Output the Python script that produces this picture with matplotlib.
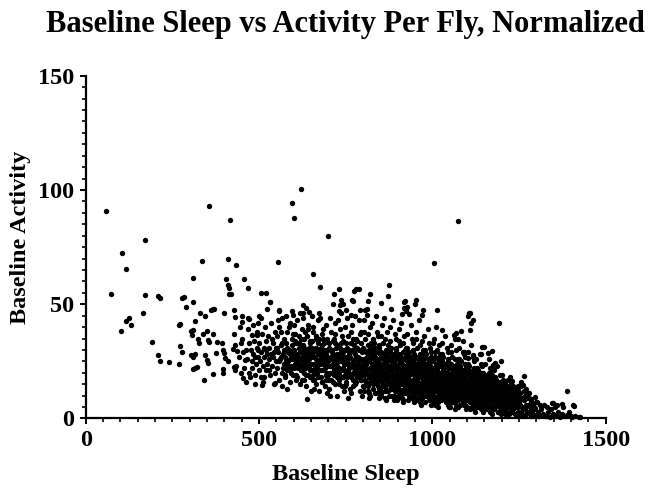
import matplotlib
matplotlib.use("Agg")
import matplotlib.pyplot as plt
from matplotlib.ticker import MultipleLocator

plt.rcParams['font.family'] = ['Liberation Serif', 'DejaVu Serif']
plt.rcParams['font.weight'] = 'bold'

title = "Baseline Sleep vs Activity Per Fly, Normalized"
x_label = "Baseline Sleep"
y_label = "Baseline Activity"
x_ticks = [0, 500, 1000, 1500]
y_ticks = [0, 50, 100, 150]

# isolated flies (sleep, activity)
flies_sparse = [
    (58, 91), (356, 93), (417, 87), (172, 78), (106, 72.5), (117, 65.5), (336, 69), (411, 70),
    (433, 67), (555, 68.5), (309, 61.3), (405, 61), (411, 58.2), (414, 57), (413, 54.6), (419, 54.6),
    (458, 61), (468, 57.2), (72, 54.6), (172, 54), (209, 53.7), (215, 52.7), (278, 52.8), (285, 53.1),
    (290, 49), (311, 50.8), (506, 54.7), (521, 54.7), (531, 50.9), (522, 47.9), (370, 48), (361, 47.4),
    (429, 47.4), (559, 47.6), (115, 42.8), (125, 43.9), (130, 40.7), (101, 38.1), (165, 46), (192, 33.6),
    (209, 27.9), (215, 25.3), (240, 24.7), (270, 23.7), (272, 41.5), (271, 31.7), (278, 29.1), (304, 38.4),
    (309, 38.9), (315, 42.6), (330, 46), (345, 44.8), (366, 47.8), (400, 46), (430, 44.5), (451, 45),
    (450, 42.2), (472, 43.6), (500, 45), (498, 42), (323, 34.6), (327, 33.1), (339, 36.8), (350, 38.4),
    (353, 34.3), (357, 33.4), (368, 37.1), (379, 33.6), (393, 33.1), (303, 27.9), (309, 26.8), (315, 28.3),
    (343, 27.6), (351, 25.6), (354, 24.4), (309, 21.6), (315, 22.2), (322, 22.4), (342, 16.8), (366, 19.5),
    (375, 28.5), (395, 21.6), (397, 19.8), (403, 26.5), (411, 25.1), (397, 30), (400, 28.5), (429, 36.8),
    (432, 32.3), (424, 30.3), (436, 29.5), (429, 22.6), (434, 23), (432, 21.2), (449, 32.9), (455, 29.1),
    (459, 25.7), (454, 17.7), (463, 16.1), (471, 19.8), (467, 39.1), (480, 36.4), (493, 36.6), (479, 25.1),
    (489, 27), (498, 29.9), (508, 14.6), (514, 18), (545, 15.4), (270, 40.9), (307, 36.5),
    (622, 100.5), (595, 94.5), (601, 87.7), (700, 80), (1074, 86.5), (1004, 67.9), (655, 63.3), (676, 57.5),
    (732, 56.8), (716, 54.6), (714, 50.2), (775, 55.9), (779, 56.8), (789, 56.5), (768, 51.7), (772, 51.4),
    (821, 54.3), (876, 58.4), (871, 53.6), (814, 51.2), (853, 50.5), (922, 51.4), (926, 49), (953, 51.8),
    (736, 51.8), (742, 50.2), (733, 49.5), (731, 47), (736, 46), (925, 47), (532, 50.9), (559, 47.1),
    (595, 47.1), (599, 45.4), (628, 49.6), (636, 48.4), (645, 46.6), (628, 46), (672, 46), (752, 47.3),
    (766, 45.1), (791, 47.3), (807, 47.3), (811, 45.1), (912, 45.7), (934, 45.7), (974, 47.3), (969, 45.1),
    (1012, 47.3), (1107, 46), (1028, 38.7), (1104, 45), (1112, 42), (950, 50.3), (919, 48.4), (917, 51),
    (1110, 46.1), (1117, 43.1), (1110, 38.8), (1192, 41.6), (1063, 36.5), (1068, 37.2), (1082, 38.1),
    (1065, 35), (1073, 34.8), (1143, 31.4), (1150, 31.4), (1139, 28.1), (1161, 28.5), (1172, 29.6),
    (1117, 27.8), (1104, 26.3), (1087, 29.2), (1092, 28.1), (1198, 25.1), (1180, 24.4), (1174, 23.4),
    (1265, 18.5), (1255, 16.1), (1261, 14.6), (1271, 12.9), (1277, 11), (1387, 12.2), (1410, 5.6),
    (1422, 0.7), (1388, 1.5), (1399, 1.1), (1373, 6.2), (1349, 6.6), (1354, 5.2), (1330, 5.2),
    (1301, 7.3), (1311, 5.9), (1296, 4.5), (1224, 18), (1229, 16.5), (1244, 13.9), (1248, 12.5),
    (1285, 8.5), (1295, 9.5), (1270, 10), (1345, 6.6), (1359, 5.9), (1378, 5.2), (1407, 5.9),
    (1412, 1.1), (1426, 0.8),
]

# the dense cloud, estimated bin by bin (sleep 440-800)
flies_cloud_left = [
    (443, 27), (447, 20), (452, 35), (458, 22), (462, 30), (466, 26), (471, 33), (474, 18), (445, 40), (468, 44),
    (477, 30), (480, 22), (484, 28), (486, 34), (489, 19), (491, 24), (494, 31), (497, 27), (499, 21), (482, 41),
    (495, 38), (488, 15),
    (501, 33), (503, 25), (505, 29), (507, 18), (509, 37), (511, 23), (513, 31), (515, 27), (517, 40), (519, 21),
    (521, 34), (523, 28), (506, 44), (512, 16), (520, 30), (524, 24),
    (526, 36), (528, 26), (530, 31), (532, 19), (534, 42), (536, 28), (538, 23), (540, 33), (542, 15), (544, 29),
    (546, 38), (548, 25), (529, 21), (537, 35), (545, 20), (549, 31), (541, 27),
    (551, 22), (553, 36), (555, 29), (557, 17), (559, 40), (561, 26), (563, 32), (565, 20), (567, 44), (569, 28),
    (571, 24), (573, 35), (552, 31), (558, 25), (566, 14), (572, 30), (562, 38), (574, 19), (556, 43),
    (576, 27), (578, 33), (580, 21), (582, 38), (584, 25), (586, 30), (588, 16), (590, 42), (592, 23), (594, 35),
    (596, 28), (598, 19), (577, 45), (583, 29), (589, 26), (595, 32), (599, 37), (581, 13), (593, 22), (587, 40),
    (601, 30), (603, 24), (605, 37), (607, 19), (609, 28), (611, 43), (613, 22), (615, 33), (617, 26), (619, 15),
    (621, 35), (623, 29), (602, 41), (608, 25), (614, 31), (620, 21), (624, 39), (606, 17), (612, 27), (618, 46),
    (622, 23), (616, 36),
    (626, 25), (628, 32), (630, 20), (632, 38), (634, 27), (636, 14), (638, 30), (640, 23), (642, 41), (644, 28),
    (646, 18), (648, 34), (627, 44), (633, 22), (639, 36), (645, 26), (649, 12), (631, 29), (637, 8.5), (643, 31),
    (647, 21), (629, 17), (641, 39),
    (651, 27), (653, 34), (655, 19), (657, 40), (659, 24), (661, 30), (663, 15), (665, 36), (667, 22), (669, 28),
    (671, 43), (673, 25), (652, 31), (658, 17), (664, 26), (670, 33), (674, 12), (656, 38), (662, 21), (668, 29),
    (654, 45), (666, 23), (672, 35), (660, 13),
    (676, 24), (678, 31), (680, 18), (682, 37), (684, 26), (686, 21), (688, 33), (690, 14), (692, 28), (694, 41),
    (696, 23), (698, 30), (677, 44), (683, 16), (689, 25), (695, 35), (699, 19), (679, 27), (685, 39), (691, 22),
    (697, 11), (681, 32), (687, 29), (693, 17),
    (701, 26), (703, 33), (705, 20), (707, 38), (709, 23), (711, 29), (713, 16), (715, 35), (717, 25), (719, 42),
    (721, 21), (723, 31), (702, 13), (708, 27), (714, 24), (720, 37), (724, 18), (704, 44), (710, 30), (716, 19),
    (722, 27), (706, 10), (712, 34), (718, 22), (725, 28),
    (726, 23), (728, 32), (730, 17), (732, 28), (734, 39), (736, 21), (738, 26), (740, 14), (742, 34), (744, 24),
    (746, 30), (748, 19), (727, 43), (733, 25), (739, 36), (745, 12), (749, 27), (729, 20), (735, 31), (741, 22),
    (747, 40), (731, 15), (737, 29), (743, 18), (750, 33), (726, 10),
    (751, 25), (753, 31), (755, 18), (757, 36), (759, 22), (761, 28), (763, 13), (765, 33), (767, 24), (769, 41),
    (771, 20), (773, 29), (752, 15), (758, 26), (764, 38), (770, 17), (774, 23), (754, 44), (760, 30), (766, 11),
    (772, 35), (756, 21), (762, 27), (768, 19), (775, 32), (757, 9),
    (776, 21), (778, 28), (780, 16), (782, 34), (784, 24), (786, 19), (788, 30), (790, 12), (792, 26), (794, 38),
    (796, 22), (798, 29), (777, 45), (783, 18), (789, 25), (795, 33), (799, 14), (779, 31), (785, 22), (791, 37),
    (797, 10), (781, 27), (787, 43), (793, 17), (800, 24), (780, 35), (792, 20),
]

# dense cloud, sleep 800-1000
flies_cloud_mid = [
    (801, 23), (803, 30), (805, 17), (807, 35), (809, 21), (811, 27), (813, 12), (815, 32), (817, 25), (819, 40),
    (821, 19), (823, 28), (802, 14), (808, 24), (814, 37), (820, 16), (824, 22), (804, 43), (810, 29), (816, 9),
    (822, 33), (806, 20), (812, 26), (818, 18), (825, 31), (803, 38), (817, 11), (811, 48),
    (826, 20), (828, 27), (830, 15), (832, 33), (834, 23), (836, 18), (838, 29), (840, 11), (842, 25), (844, 36),
    (846, 21), (848, 28), (827, 42), (833, 17), (839, 24), (845, 31), (849, 13), (829, 30), (835, 22), (841, 38),
    (847, 9), (831, 26), (837, 45), (843, 19), (850, 24), (828, 35), (838, 16), (846, 32), (834, 27),
    (851, 22), (853, 29), (855, 16), (857, 33), (859, 20), (861, 26), (863, 12), (865, 30), (867, 24), (869, 38),
    (871, 18), (873, 27), (852, 10), (858, 23), (864, 35), (870, 15), (874, 21), (854, 41), (860, 28), (866, 8),
    (872, 32), (856, 19), (862, 25), (868, 17), (875, 30), (853, 36), (867, 13), (861, 44), (857, 26), (871, 23),
    (864, 19),
    (876, 19), (878, 26), (880, 14), (882, 31), (884, 22), (886, 17), (888, 28), (890, 10), (892, 24), (894, 35),
    (896, 20), (898, 27), (877, 40), (883, 16), (889, 23), (895, 30), (899, 12), (879, 29), (885, 21), (891, 37),
    (897, 8), (881, 25), (887, 43), (893, 18), (900, 22), (878, 34), (888, 15), (896, 31), (884, 26), (892, 13),
    (880, 48), (898, 18),
    (901, 21), (903, 28), (905, 15), (907, 32), (909, 19), (911, 25), (913, 11), (915, 29), (917, 23), (919, 36),
    (921, 17), (923, 26), (902, 9), (908, 22), (914, 33), (920, 14), (924, 20), (904, 39), (910, 27), (916, 7),
    (922, 30), (906, 18), (912, 24), (918, 16), (925, 28), (903, 34), (917, 12), (911, 42), (907, 25), (921, 22),
    (914, 19), (905, 13), (923, 31), (909, 16),
    (926, 18), (928, 25), (930, 13), (932, 29), (934, 21), (936, 16), (938, 27), (940, 9), (942, 23), (944, 33),
    (946, 19), (948, 26), (927, 37), (933, 15), (939, 22), (945, 30), (949, 11), (929, 28), (935, 20), (941, 35),
    (947, 7), (931, 24), (937, 41), (943, 17), (950, 21), (928, 31), (938, 14), (946, 28), (934, 25), (942, 12),
    (930, 19), (948, 16), (936, 22), (944, 10),
    (951, 20), (953, 27), (955, 14), (957, 31), (959, 18), (961, 24), (963, 10), (965, 28), (967, 22), (969, 34),
    (971, 16), (973, 25), (952, 8), (958, 21), (964, 32), (970, 13), (974, 19), (954, 38), (960, 26), (966, 6),
    (972, 29), (956, 17), (962, 23), (968, 15), (975, 27), (953, 35), (967, 11), (961, 43), (957, 24), (971, 21),
    (964, 18), (955, 12), (973, 30), (959, 15), (963, 20), (969, 9), (951, 23),
    (976, 17), (978, 24), (980, 12), (982, 28), (984, 20), (986, 15), (988, 26), (990, 8), (992, 22), (994, 31),
    (996, 18), (998, 25), (977, 36), (983, 14), (989, 21), (995, 29), (999, 10), (979, 27), (985, 19), (991, 33),
    (997, 6), (981, 23), (987, 39), (993, 16), (1000, 20), (978, 30), (988, 13), (996, 27), (984, 24), (992, 11),
    (980, 18), (998, 15), (986, 21), (994, 9), (990, 17), (982, 14), (976, 22), (996, 12),
]

# dense cloud, sleep 1000-1410
flies_cloud_right = [
    (1001, 19), (1003, 25), (1005, 12), (1007, 29), (1009, 17), (1011, 22), (1013, 9), (1015, 26), (1017, 20),
    (1019, 32), (1021, 15), (1023, 23), (1002, 7), (1008, 19), (1014, 30), (1020, 11), (1024, 17), (1004, 35),
    (1010, 24), (1016, 5), (1022, 27), (1006, 15), (1012, 21), (1018, 13), (1025, 25), (1003, 33), (1017, 10),
    (1011, 40), (1007, 22), (1021, 19), (1014, 16), (1005, 10), (1023, 28), (1009, 13), (1013, 18), (1019, 8),
    (1001, 22), (1015, 14), (1024, 11), (1008, 27),
    (1026, 16), (1028, 23), (1030, 11), (1032, 27), (1034, 19), (1036, 14), (1038, 24), (1040, 7), (1042, 20),
    (1044, 29), (1046, 16), (1048, 22), (1027, 33), (1033, 12), (1039, 19), (1045, 26), (1049, 9), (1029, 25),
    (1035, 17), (1041, 31), (1047, 5), (1031, 21), (1037, 36), (1043, 14), (1050, 18), (1028, 28), (1038, 11),
    (1046, 25), (1034, 22), (1042, 10), (1030, 17), (1048, 13), (1036, 20), (1044, 8), (1040, 15), (1032, 13),
    (1026, 20), (1046, 19), (1038, 17), (1050, 11),
    (1051, 18), (1053, 24), (1055, 10), (1057, 27), (1059, 15), (1061, 21), (1063, 7), (1065, 23), (1067, 17),
    (1069, 30), (1071, 12), (1073, 20), (1052, 5), (1058, 16), (1064, 26), (1070, 9), (1074, 14), (1054, 32),
    (1060, 22), (1066, 4), (1072, 24), (1056, 13), (1062, 19), (1068, 11), (1075, 21), (1053, 29), (1067, 8),
    (1061, 15), (1057, 20), (1071, 17), (1064, 13), (1055, 16), (1073, 26), (1059, 11), (1063, 18), (1069, 6),
    (1051, 12), (1065, 14), (1074, 10), (1058, 23),
    (1076, 15), (1078, 22), (1080, 9), (1082, 25), (1084, 17), (1086, 12), (1088, 21), (1090, 6), (1092, 18),
    (1094, 27), (1096, 14), (1098, 20), (1077, 31), (1083, 11), (1089, 17), (1095, 24), (1099, 8), (1079, 23),
    (1085, 15), (1091, 29), (1097, 4), (1081, 19), (1087, 34), (1093, 12), (1100, 16), (1078, 26), (1088, 9),
    (1096, 22), (1084, 20), (1092, 8), (1080, 14), (1098, 11), (1086, 18), (1094, 6), (1090, 13), (1082, 10),
    (1076, 19),
    (1101, 14), (1103, 20), (1105, 8), (1107, 23), (1109, 16), (1111, 11), (1113, 19), (1115, 5), (1117, 17),
    (1119, 25), (1121, 12), (1123, 18), (1102, 29), (1108, 10), (1114, 15), (1120, 22), (1124, 7), (1104, 21),
    (1110, 13), (1116, 27), (1122, 3), (1106, 17), (1112, 32), (1118, 10), (1125, 15), (1103, 24), (1113, 8),
    (1121, 20), (1109, 18), (1117, 6), (1105, 12), (1123, 10), (1111, 16), (1119, 4), (1115, 12),
    (1126, 13), (1128, 19), (1130, 7), (1132, 21), (1134, 15), (1136, 10), (1138, 18), (1140, 4), (1142, 15),
    (1144, 23), (1146, 11), (1148, 17), (1127, 26), (1133, 9), (1139, 13), (1145, 20), (1149, 6), (1129, 16),
    (1135, 12), (1141, 24), (1147, 3), (1131, 14), (1137, 28), (1143, 9), (1150, 14), (1128, 22), (1138, 7),
    (1146, 19), (1134, 17), (1142, 5), (1130, 11),
    (1151, 12), (1153, 17), (1155, 6), (1157, 19), (1159, 13), (1161, 9), (1163, 16), (1165, 3), (1167, 13),
    (1169, 21), (1171, 10), (1173, 15), (1152, 24), (1158, 8), (1164, 11), (1170, 18), (1174, 5), (1154, 14),
    (1160, 10), (1166, 22), (1172, 2), (1156, 12), (1162, 26), (1168, 7), (1175, 13), (1157, 4), (1163, 20),
    (1176, 11), (1178, 15), (1180, 5), (1182, 18), (1184, 12), (1186, 8), (1188, 14), (1190, 3), (1192, 11),
    (1194, 19), (1196, 8), (1198, 13), (1177, 21), (1183, 6), (1189, 10), (1195, 16), (1199, 4), (1179, 9),
    (1185, 17), (1191, 6), (1197, 2), (1181, 13), (1187, 23), (1193, 9),
    (1201, 10), (1203, 14), (1205, 4), (1207, 16), (1209, 8), (1211, 11), (1213, 3), (1215, 13), (1217, 7),
    (1219, 17), (1221, 9), (1223, 5), (1202, 19), (1208, 12), (1214, 6), (1220, 2), (1204, 7), (1210, 15),
    (1216, 10), (1222, 12), (1212, 1.5),
    (1226, 9), (1228, 12), (1230, 3), (1232, 14), (1234, 7), (1236, 10), (1238, 2), (1240, 11), (1242, 5),
    (1244, 8), (1246, 14), (1248, 3), (1227, 16), (1233, 5), (1239, 9), (1245, 1.5), (1231, 7), (1237, 12),
    (1249, 6),
    (1251, 7), (1253, 11), (1255, 3), (1257, 9), (1259, 5), (1261, 1), (1263, 8), (1265, 12), (1267, 4),
    (1269, 6), (1271, 2), (1273, 9), (1256, 14), (1262, 4), (1268, 10),
    (1276, 6), (1278, 3), (1280, 9), (1282, 5), (1284, 1), (1286, 7), (1288, 3), (1290, 6), (1292, 1.5),
    (1294, 4), (1298, 7), (1279, 11),
    (1304, 3), (1308, 1), (1313, 4), (1318, 2), (1322, 6), (1327, 1), (1333, 3), (1338, 0.5), (1342, 4),
    (1347, 2), (1356, 1), (1362, 3), (1368, 0.5), (1375, 2), (1382, 1), (1393, 3), (1403, 0.5),
]

# the solid black core of the cloud, estimated
flies_core = [
    (562, 27), (565, 33), (568, 22), (571, 29), (575, 18), (578, 25), (581, 31), (585, 23), (588, 28), (591, 20),
    (595, 26), (598, 30), (602, 22), (605, 27), (608, 33), (611, 18), (615, 24), (618, 29), (621, 21), (625, 27),
    (628, 23), (631, 31), (635, 19), (638, 25), (641, 28), (645, 22), (648, 30), (651, 24), (655, 17), (658, 27),
    (661, 23), (665, 31), (668, 20), (671, 25), (675, 28), (678, 21), (681, 16), (685, 24), (688, 27), (691, 30),
    (695, 20), (698, 25), (701, 17), (705, 23), (708, 30), (711, 26), (715, 21), (718, 15), (721, 24), (725, 19),
    (728, 27), (731, 22), (735, 25), (738, 18), (741, 29), (745, 21), (748, 24), (751, 16), (755, 27), (758, 20),
    (761, 23), (765, 18), (768, 30), (771, 25), (775, 22), (778, 15), (781, 20), (785, 27), (788, 23), (791, 18),
    (795, 26), (798, 21),
    (802, 19), (803, 26), (804, 12), (805, 22), (808, 16), (809, 24), (810, 20), (811, 29), (814, 14), (815, 21),
    (816, 18), (817, 25), (820, 22), (821, 10), (822, 27), (823, 17), (826, 19), (827, 24), (828, 13), (829, 21),
    (832, 16), (833, 28), (834, 22), (835, 11), (838, 20), (839, 25), (840, 15), (841, 18), (844, 23), (845, 13),
    (846, 19), (847, 26), (850, 17), (851, 21), (852, 11), (853, 28), (856, 14), (857, 24), (858, 20), (859, 17),
    (862, 22), (863, 9), (864, 18), (865, 27), (868, 20), (869, 15), (870, 25), (871, 12), (874, 18), (875, 23),
    (876, 10), (877, 16), (880, 21), (881, 27), (882, 13), (883, 19), (886, 15), (887, 22), (888, 8), (889, 25),
    (892, 19), (893, 12), (894, 23), (895, 16), (898, 21), (899, 14), (900, 26), (901, 10), (904, 17), (905, 22),
    (906, 12), (907, 19), (910, 15), (911, 24), (912, 9), (913, 20), (916, 18), (917, 13), (918, 22), (919, 26),
    (922, 11), (923, 19), (924, 15), (925, 23), (928, 17), (929, 8), (930, 21), (931, 14), (934, 19), (935, 24),
    (936, 12), (937, 16), (940, 14), (941, 20), (942, 10), (943, 25), (946, 17), (947, 22), (948, 13), (949, 8),
    (952, 16), (953, 20), (954, 11), (955, 24), (958, 13), (959, 18), (960, 9), (961, 22), (964, 15), (965, 20),
    (966, 12), (967, 26), (970, 18), (971, 10), (972, 22), (973, 14), (976, 12), (977, 19), (978, 16), (979, 7),
    (982, 17), (983, 21), (984, 10), (985, 13), (988, 15), (989, 24), (990, 11), (991, 19), (994, 13), (995, 17),
    (996, 21), (997, 8), (1000, 16), (1001, 12), (1002, 25), (1003, 19),
    (1006, 14), (1007, 18), (1008, 9), (1009, 22), (1012, 12), (1013, 16), (1014, 20), (1015, 7), (1018, 17),
    (1019, 11), (1020, 23), (1021, 14), (1024, 13), (1025, 19), (1026, 8), (1027, 16), (1030, 15), (1031, 21),
    (1032, 10), (1033, 12), (1036, 18), (1037, 9), (1038, 14), (1039, 24), (1042, 12), (1043, 17), (1044, 6),
    (1045, 20), (1048, 15), (1049, 10), (1050, 22), (1051, 13), (1054, 11), (1055, 18), (1056, 14), (1057, 7),
    (1060, 16), (1061, 9), (1062, 20), (1063, 12), (1066, 13), (1067, 17), (1068, 10), (1069, 23), (1072, 15),
    (1073, 8), (1074, 19), (1075, 11), (1078, 12), (1079, 17), (1080, 6), (1081, 14), (1084, 10), (1085, 15),
    (1086, 21), (1087, 8), (1090, 16), (1091, 11), (1092, 19), (1093, 13), (1096, 9), (1097, 14), (1098, 17),
    (1099, 5), (1102, 12), (1103, 16), (1104, 8), (1105, 20), (1108, 14), (1109, 7), (1110, 11), (1111, 18),
    (1114, 10), (1115, 15), (1116, 13), (1117, 21), (1120, 8), (1121, 13), (1122, 17), (1123, 6), (1126, 11),
    (1127, 15), (1128, 9), (1129, 19), (1132, 13), (1133, 6), (1134, 17), (1135, 10), (1138, 9), (1139, 14),
    (1140, 12), (1141, 20), (1144, 7), (1145, 12), (1146, 16), (1147, 4), (1150, 10), (1151, 14), (1152, 8),
    (1153, 18), (1156, 11), (1157, 6), (1158, 15), (1159, 9), (1162, 8), (1163, 13), (1164, 17), (1165, 5),
    (1168, 10), (1169, 14), (1170, 7), (1171, 19), (1174, 12), (1175, 8), (1176, 16), (1177, 4), (1180, 9),
    (1181, 13), (1182, 6), (1183, 17), (1186, 11), (1187, 7), (1188, 15), (1189, 3), (1192, 8), (1193, 12),
    (1194, 5), (1195, 16), (1198, 10), (1199, 6), (1200, 13), (1201, 3), (1204, 9), (1205, 12), (1206, 5),
    (1207, 15), (1210, 7), (1211, 11), (1212, 3), (1213, 14), (1216, 8), (1217, 5), (1218, 12), (1219, 10),
    (1222, 6), (1223, 9), (1224, 3), (1225, 13), (1228, 7), (1229, 4), (1230, 10), (1231, 8),
]

# more of the core, filling the darkest part
flies_core_extra = [
    (604, 34), (610, 26), (617, 32), (623, 17), (629, 35), (634, 24), (640, 19), (646, 33), (652, 21), (657, 29),
    (663, 35), (669, 18), (674, 30), (680, 26), (686, 35), (692, 19), (697, 27), (703, 31), (709, 17), (714, 28),
    (720, 33), (726, 25), (732, 20), (737, 33), (743, 27), (749, 14), (754, 30), (760, 24), (766, 33), (771, 14),
    (777, 26), (783, 31), (789, 20), (794, 17), (800, 31), (806, 26), (812, 15), (818, 30), (824, 19), (830, 24),
    (836, 31), (842, 14), (848, 22), (854, 27), (860, 14),
    (863, 20), (867, 28), (872, 16), (878, 22), (883, 10), (889, 19), (894, 27), (899, 17), (904, 24), (909, 11),
    (914, 21), (919, 15), (924, 27), (929, 18), (934, 10), (939, 24), (944, 16), (949, 20), (954, 14), (959, 27),
    (964, 7), (969, 19), (974, 15), (979, 22), (984, 17), (989, 9), (994, 23), (999, 14), (1004, 18), (1009, 6),
    (1014, 12), (1019, 25), (1024, 20), (1029, 14), (1034, 9), (1039, 17), (1044, 22), (1049, 15), (1054, 8),
    (1059, 19), (1064, 10), (1069, 16), (1074, 5), (1079, 20), (1084, 13), (1089, 7), (1094, 15), (1099, 22),
    (1104, 11), (1109, 4), (1114, 18), (1119, 9), (1124, 14), (1129, 5), (1134, 20), (1139, 8), (1144, 14),
    (1149, 18), (1154, 7), (1159, 16), (1164, 9), (1169, 4), (1174, 18), (1179, 11), (1184, 15), (1189, 6),
    (1194, 13), (1199, 9), (1204, 17), (1209, 4), (1214, 10), (1219, 14), (1224, 7), (1229, 12), (1234, 4),
    (1239, 6), (1244, 10), (1249, 2), (1254, 6), (1259, 9),
    (882, 23), (891, 14), (897, 18), (906, 26), (915, 8), (920, 20), (927, 12), (932, 17), (938, 20), (945, 23),
    (951, 9), (957, 16), (962, 13), (968, 24), (975, 10), (981, 20), (987, 12), (993, 18), (998, 21), (1005, 16),
    (1011, 14), (1016, 19), (1022, 9), (1028, 18), (1035, 12), (1041, 16), (1047, 19), (1053, 13), (1058, 9),
    (1065, 17), (1070, 21), (1077, 13), (1083, 16), (1088, 11), (1095, 18), (1101, 10), (1107, 13), (1112, 7),
    (1118, 15), (1125, 10), (1131, 17), (1137, 12), (1143, 14), (1148, 9), (1155, 16), (1161, 12), (1167, 10),
    (1173, 8), (1178, 13), (1185, 10), (1191, 14), (1196, 11), (1203, 8), (1208, 6), (1215, 9), (1221, 11),
    (1227, 3), (1233, 9), (1241, 7), (1247, 5),
]

flies = (flies_sparse + flies_cloud_left + flies_cloud_mid + flies_cloud_right
         + flies_core + flies_core_extra)
sleep = [p[0] for p in flies]
activity = [p[1] for p in flies]

fig = plt.figure(figsize=(6.55, 4.91), dpi=100)
ax = fig.add_axes([0.1308, 0.1477, 0.7939, 0.6981])

ax.scatter(sleep, activity, s=15, color="black", linewidths=0, clip_on=False, zorder=3)

ax.set_xlim(0, 1500)
ax.set_ylim(0, 150)
ax.set_xticks(x_ticks)
ax.set_yticks(y_ticks)
ax.xaxis.set_minor_locator(MultipleLocator(50))
ax.yaxis.set_minor_locator(MultipleLocator(5))

for side in ["top", "right"]:
    ax.spines[side].set_visible(False)
for side in ["left", "bottom"]:
    ax.spines[side].set_linewidth(1.6)

ax.tick_params(which="major", direction="out", length=4.5, width=1.4, labelsize=17.5, pad=4)
ax.tick_params(which="minor", direction="out", length=3, width=1.2)
for lab in ax.get_xticklabels() + ax.get_yticklabels():
    lab.set_fontweight("bold")

ax.set_xlabel(x_label, fontsize=17.5, fontweight="bold")
ax.set_ylabel(y_label, fontsize=17.5, fontweight="bold")
ax.xaxis.set_label_coords(0.5, -0.134)
ax.yaxis.set_label_coords(-0.1046, 0.528)

fig.text(345.7 / 655, 1 - 31.8 / 491, title, ha="center", va="baseline",
         fontsize=22, fontweight="bold")

plt.savefig("out.png", dpi=100)
plt.close()
